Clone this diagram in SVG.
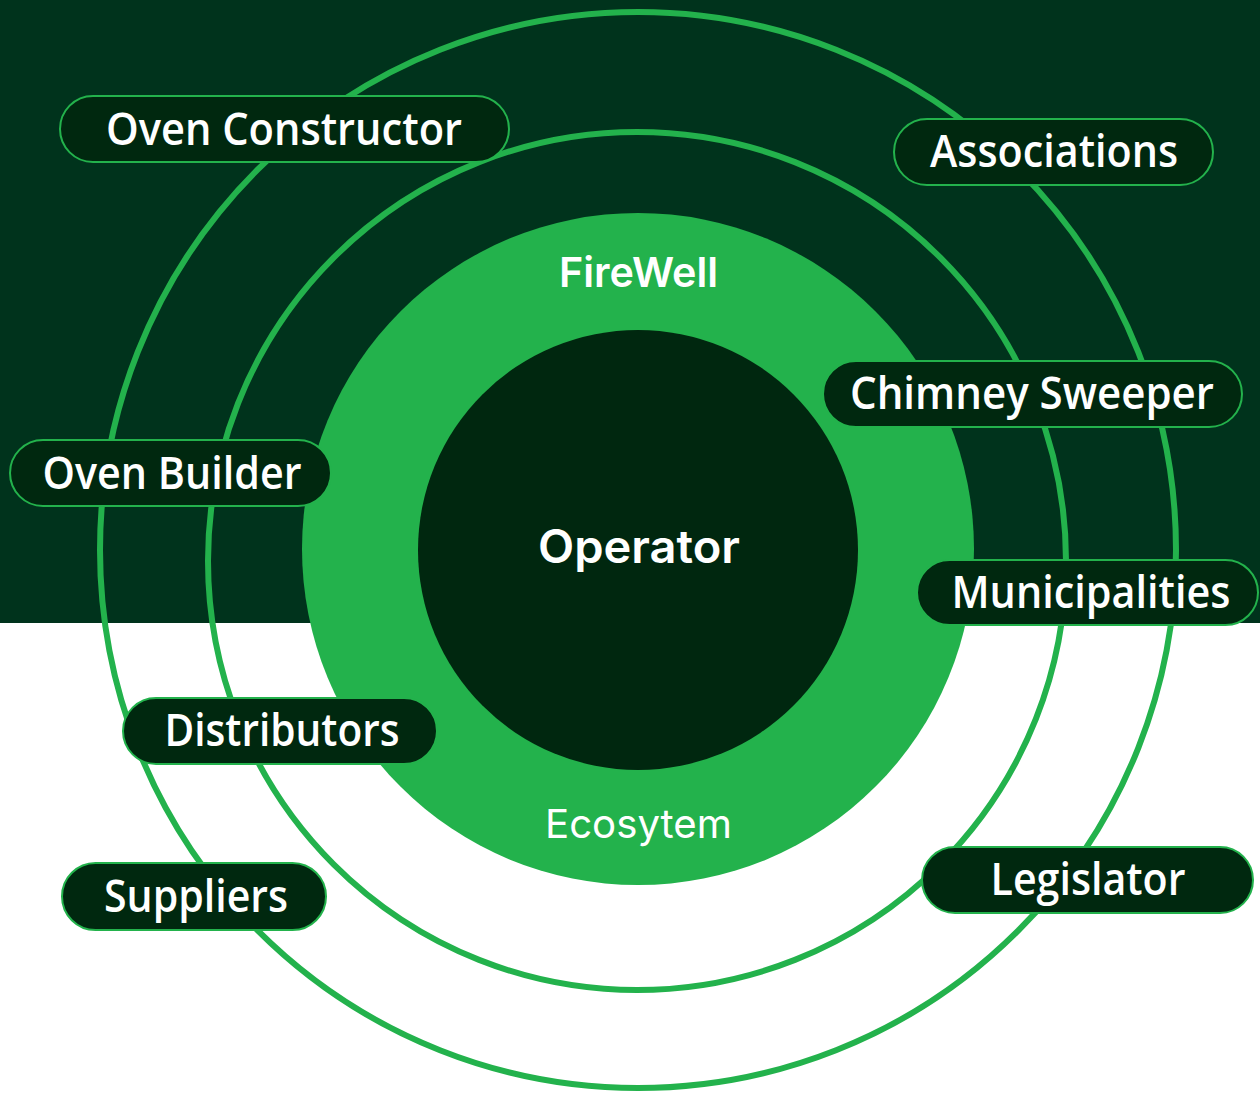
<svg xmlns="http://www.w3.org/2000/svg" width="1260" height="1093" viewBox="0 0 1260 1093">
<style>
.ring{fill:none;stroke:#23b24c;stroke-width:6}
.pill rect{fill:#00280f;stroke:#23b24c;stroke-width:2}
.pill text{fill:#ffffff;font-family:"Open Sans","Noto Sans","Liberation Sans",sans-serif;font-weight:600;font-size:45px;text-anchor:middle}
.core{fill:#ffffff;font-family:Inter,"Noto Sans",sans-serif;text-anchor:middle}
</style>
<rect id="bg-light" x="0" y="0" width="1260" height="1093" fill="#ffffff"/>
<rect id="bg-dark" x="0" y="0" width="1260" height="623" fill="#00331c"/>
<g id="rings">
<circle class="ring" cx="638" cy="550" r="538"/>
<circle class="ring" cx="637" cy="561" r="429"/>
</g>
<g id="ecosystem">
<circle cx="638" cy="549" r="336" fill="#23b24c"/>
<text class="core" x="638.5" y="287" font-size="41" font-weight="600" textLength="159" lengthAdjust="spacingAndGlyphs">FireWell</text>
<text class="core" x="638.5" y="838" font-size="40" font-weight="400" textLength="187" lengthAdjust="spacingAndGlyphs">Ecosytem</text>
</g>
<g id="operator">
<circle cx="638" cy="550" r="220" fill="#00270f"/>
<text class="core" x="639" y="563" font-size="46" font-weight="600" textLength="202" lengthAdjust="spacingAndGlyphs">Operator</text>
</g>
<g id="connectors"></g>
<g id="oven-constructor" class="pill"><rect x="60" y="96" width="449" height="66" rx="33"/><text x="284" y="145" textLength="356" lengthAdjust="spacingAndGlyphs">Oven Constructor</text></g>
<g id="oven-builder" class="pill"><rect x="10" y="440" width="321" height="66" rx="33"/><text x="172" y="489" textLength="259" lengthAdjust="spacingAndGlyphs">Oven Builder</text></g>
<g id="associations" class="pill"><rect x="894" y="119" width="319" height="66" rx="33"/><text x="1054" y="167" textLength="248" lengthAdjust="spacingAndGlyphs">Associations</text></g>
<g id="chimney-sweeper" class="pill"><rect x="823" y="361" width="419" height="66" rx="33"/><text x="1032" y="409" textLength="364" lengthAdjust="spacingAndGlyphs">Chimney Sweeper</text></g>
<g id="municipalities" class="pill"><rect x="917" y="560" width="341" height="65" rx="32.5"/><text x="1091" y="608" textLength="279" lengthAdjust="spacingAndGlyphs">Municipalities</text></g>
<g id="legislator" class="pill"><rect x="922" y="847" width="331" height="66" rx="33"/><text x="1088" y="895" textLength="195" lengthAdjust="spacingAndGlyphs">Legislator</text></g>
<g id="distributors" class="pill"><rect x="123" y="698" width="314" height="66" rx="33"/><text x="282" y="746" textLength="235" lengthAdjust="spacingAndGlyphs">Distributors</text></g>
<g id="suppliers" class="pill"><rect x="62" y="863" width="264" height="67" rx="33.5"/><text x="196" y="912" textLength="184" lengthAdjust="spacingAndGlyphs">Suppliers</text></g>
</svg>
